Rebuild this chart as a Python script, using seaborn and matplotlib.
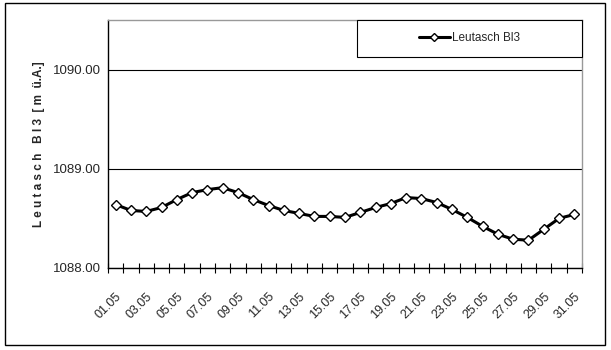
import numpy as np
import pandas as pd
import matplotlib
matplotlib.use("Agg")
import matplotlib.pyplot as plt
from matplotlib.patches import Rectangle
from matplotlib.ticker import FixedLocator
import seaborn as sns

days = [f"{d:02d}.05" for d in range(1, 32)]
level = [
    1088.64, 1088.58, 1088.57, 1088.61, 1088.69, 1088.76, 1088.79, 1088.81,
    1088.76, 1088.69, 1088.63, 1088.58, 1088.55, 1088.52, 1088.52, 1088.51,
    1088.56, 1088.61, 1088.65, 1088.71, 1088.70, 1088.66, 1088.59, 1088.51,
    1088.42, 1088.34, 1088.29, 1088.28, 1088.39, 1088.50, 1088.54,
]
series_name = "Leutasch Bl3"

df = pd.DataFrame({"day": days, "level": level})
df["pos"] = np.arange(len(df))

sns.set_style("white")
plt.rcParams["font.family"] = ["Liberation Sans", "DejaVu Sans"]

fig = plt.figure(figsize=(6.11, 3.5), dpi=100)
ax = fig.add_axes([108 / 611, 1 - 268 / 350, 474 / 611, 248 / 350])

sns.lineplot(
    data=df, x="pos", y="level", ax=ax, color="black", linewidth=2.2,
    marker="D", markersize=5.5, markerfacecolor="white", markeredgecolor="black",
    markeredgewidth=1.0, label=series_name, legend=False,
)

ax.set_xlim(-0.5, len(days) - 0.5)
ax.set_ylim(1088.0, 1090.5)
ax.set_yticks([1088.0, 1089.0, 1090.0])
ax.set_yticklabels(["1088.00", "1089.00", "1090.00"], fontsize=9.5)
ax.yaxis.grid(True, color="black", linewidth=0.8)
ax.tick_params(axis="y", direction="out", length=4, width=0.8, color="black", pad=1)

ax.set_xticks(df["pos"][::2])
ax.set_xticklabels(df["day"][::2], rotation=45, ha="right", rotation_mode="anchor",
                   fontsize=9)
ax.xaxis.set_minor_locator(FixedLocator(np.arange(-0.5, len(days), 1.0)))
ax.tick_params(axis="x", which="major", length=0, pad=16)
ax.tick_params(axis="x", which="minor", direction="inout", length=7, width=0.8,
               color="black", bottom=True)

ax.set_xlabel("")
ax.set_ylabel("L e u t a s c h   B l 3  [ m  ü.A.]", fontsize=8.5,
              fontweight="bold", labelpad=6)

for s in ["left", "bottom"]:
    ax.spines[s].set_color("black")
    ax.spines[s].set_linewidth(1.0)
for s in ["top", "right"]:
    ax.spines[s].set_color("#999999")
    ax.spines[s].set_linewidth(1.0)

# legend box in the upper right corner
ax.add_patch(Rectangle((0.525, 0.851), 0.475, 0.149, transform=ax.transAxes,
                       facecolor="white", edgecolor="black", linewidth=0.8,
                       zorder=5, clip_on=False))
handles, labels = ax.get_legend_handles_labels()
leg = ax.legend(handles, labels, loc="center", bbox_to_anchor=(0.525, 0.851, 0.475, 0.149),
                frameon=False, fontsize=8.5, handlelength=2.6, handletextpad=0.2,
                markerscale=0.8)
leg.set_zorder(6)

# outer chart frame
fig.add_artist(Rectangle((5 / 611, 5 / 350), 600 / 611, 342 / 350,
                         transform=fig.transFigure, fill=False,
                         edgecolor="black", linewidth=1.0))

fig.savefig("out.png", dpi=100)
